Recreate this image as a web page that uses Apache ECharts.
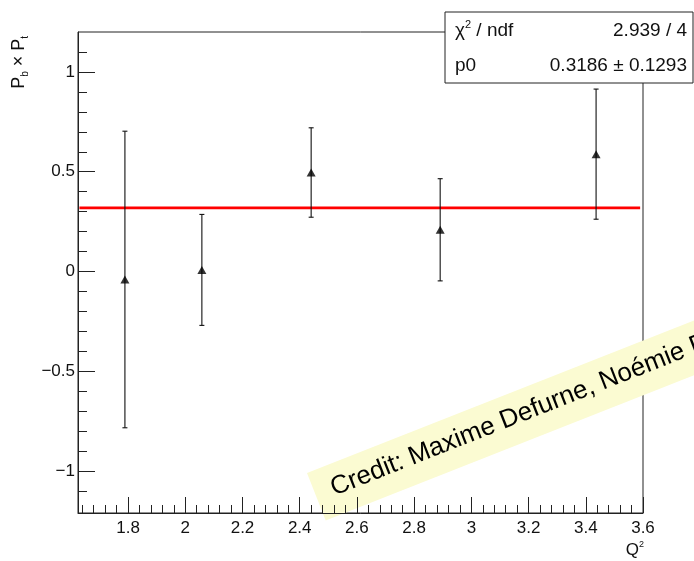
<!DOCTYPE html>
<html>
<head>
<meta charset="utf-8">
<script src="https://cdn.jsdelivr.net/npm/echarts@6/dist/echarts.min.js"></script>
<style>
  html, body { margin: 0; padding: 0; background: #fff; }
  #chart { width: 694px; height: 561px; }
</style>
</head>
<body>
<div id="chart"></div>
<script>
// Beam × target polarisation product versus Q², with constant fit
const q2 = [1.789, 2.058, 2.440, 2.891, 3.436];
const pbpt = [-0.04, 0.008, 0.496, 0.209, 0.588];
const pbptErr = [0.743, 0.278, 0.224, 0.256, 0.326];

// constant fit result
const fitP0 = 0.3186;
const fitP0Err = 0.1293;
const fitChi2 = 2.939;
const fitNdf = 4;
const fitRange = [1.63, 3.59];

// axis ranges and ticks
const xRange = [1.625, 3.6];
const yRange = [-1.21, 1.2];
const xMajorTicks = [1.8, 2.0, 2.2, 2.4, 2.6, 2.8, 3.0, 3.2, 3.4, 3.6];
const xMinorTicks = [1.64, 1.68, 1.72, 1.76, 1.84, 1.88, 1.92, 1.96, 2.04, 2.08, 2.12, 2.16,
  2.24, 2.28, 2.32, 2.36, 2.44, 2.48, 2.52, 2.56, 2.64, 2.68, 2.72, 2.76, 2.84, 2.88, 2.92, 2.96,
  3.04, 3.08, 3.12, 3.16, 3.24, 3.28, 3.32, 3.36, 3.44, 3.48, 3.52, 3.56];
const yMajorTicks = [-1, -0.5, 0, 0.5, 1];
const yMinorTicks = [-1.1, -0.9, -0.8, -0.7, -0.6, -0.4, -0.3, -0.2, -0.1,
  0.1, 0.2, 0.3, 0.4, 0.6, 0.7, 0.8, 0.9, 1.1];

const creditText = 'Credit: Maxime Defurne, Noémie Pilleux';

const FONT = '"Liberation Sans", Arial, Helvetica, sans-serif';
const fmt = v => String(+v.toFixed(3)).replace('-', '\u2212');

const points = q2.map((x, i) => [x, pbpt[i]]);
const bars = q2.map((x, i) => [x, pbpt[i] - pbptErr[i], pbpt[i] + pbptErr[i]]);

const chart = echarts.init(document.getElementById('chart'), null, { renderer: 'canvas' });

const baseX = {
  type: 'value', min: xRange[0], max: xRange[1], position: 'bottom',
  splitLine: { show: false }
};
const baseY = {
  type: 'value', min: yRange[0], max: yRange[1], position: 'left',
  splitLine: { show: false }
};

chart.setOption({
  animation: false,
  backgroundColor: '#fff',
  grid: {
    left: 78, top: 32, right: 51, bottom: 48,
    show: true, borderColor: '#222', borderWidth: 1,
    containLabel: false, outerBoundsMode: 'none'
  },
  xAxis: [
    Object.assign({}, baseX, {
      axisLine: { show: true, onZero: false, lineStyle: { color: '#222', width: 1 } },
      axisTick: { show: true, inside: true, length: 16, customValues: xMajorTicks,
        lineStyle: { color: '#222', width: 1 } },
      axisLabel: { show: true, customValues: xMajorTicks, formatter: fmt, margin: 7,
        color: '#111', fontSize: 17, fontFamily: FONT }
    }),
    Object.assign({}, baseX, {
      axisLine: { show: false, onZero: false },
      axisTick: { show: true, inside: true, length: 8, customValues: xMinorTicks,
        lineStyle: { color: '#222', width: 1 } },
      axisLabel: { show: false }
    })
  ],
  yAxis: [
    Object.assign({}, baseY, {
      axisLine: { show: true, onZero: false, lineStyle: { color: '#222', width: 1 } },
      axisTick: { show: true, inside: true, length: 17, customValues: yMajorTicks,
        lineStyle: { color: '#222', width: 1 } },
      axisLabel: { show: true, customValues: yMajorTicks, formatter: fmt, margin: 3,
        color: '#111', fontSize: 17, fontFamily: FONT }
    }),
    Object.assign({}, baseY, {
      axisLine: { show: false, onZero: false },
      axisTick: { show: true, inside: true, length: 9, customValues: yMinorTicks,
        lineStyle: { color: '#222', width: 1 } },
      axisLabel: { show: false }
    })
  ],
  series: [
    {
      name: 'fit',
      type: 'line',
      xAxisIndex: 0, yAxisIndex: 0,
      data: [[fitRange[0], fitP0], [fitRange[1], fitP0]],
      showSymbol: false, symbol: 'none',
      lineStyle: { color: '#ff0000', width: 2.6 },
      z: 2
    },
    {
      name: 'errors',
      type: 'custom',
      xAxisIndex: 0, yAxisIndex: 0,
      data: bars,
      renderItem: function (params, api) {
        const x = api.value(0);
        const lo = api.coord([x, api.value(1)]);
        const hi = api.coord([x, api.value(2)]);
        const cap = 2.5;
        const style = { stroke: '#111', lineWidth: 1.1 };
        return {
          type: 'group',
          children: [
            { type: 'line', shape: { x1: lo[0], y1: lo[1], x2: hi[0], y2: hi[1] }, style: style },
            { type: 'line', shape: { x1: lo[0] - cap, y1: lo[1], x2: lo[0] + cap, y2: lo[1] }, style: style },
            { type: 'line', shape: { x1: hi[0] - cap, y1: hi[1], x2: hi[0] + cap, y2: hi[1] }, style: style }
          ]
        };
      },
      z: 3
    },
    {
      name: 'data',
      type: 'scatter',
      xAxisIndex: 0, yAxisIndex: 0,
      data: points,
      symbol: 'triangle',
      symbolSize: [9, 8],
      itemStyle: { color: '#000' },
      z: 4
    }
  ],
  graphic: [
    // y axis title
    {
      type: 'text', x: 19, y: 36, rotation: Math.PI / 2,
      style: {
        text: '{m|P}{s|b}{m| × P}{s|t}',
        align: 'right', verticalAlign: 'middle', fill: '#111',
        rich: {
          m: { fontSize: 18, fontFamily: FONT, lineHeight: 22, fill: '#111' },
          s: { fontSize: 10, fontFamily: FONT, verticalAlign: 'bottom', fill: '#111' }
        }
      }
    },
    // x axis title
    {
      type: 'text', x: 644, y: 550,
      style: {
        text: '{m|Q}{s|2}',
        align: 'right', verticalAlign: 'middle', fill: '#111',
        rich: {
          m: { fontSize: 17, fontFamily: FONT, lineHeight: 20, fill: '#111' },
          s: { fontSize: 9, fontFamily: FONT, verticalAlign: 'top', fill: '#111' }
        }
      }
    },
    // fit statistics box
    {
      type: 'group', x: 445, y: 12, z: 100,
      children: [
        { type: 'rect', shape: { x: 0, y: 0, width: 248, height: 71 },
          style: { fill: '#fff', stroke: '#222', lineWidth: 1 } },
        { type: 'text', x: 10, y: 19,
          style: {
            text: '{m|χ}{s|2}{m| / ndf}', verticalAlign: 'middle', fill: '#111',
            rich: {
              m: { fontSize: 19, fontFamily: FONT, lineHeight: 24, fill: '#111' },
              s: { fontSize: 11, fontFamily: FONT, verticalAlign: 'top', fill: '#111' }
            }
          } },
        { type: 'text', x: 242, y: 19,
          style: { text: fitChi2.toFixed(3) + ' / ' + fitNdf, align: 'right', verticalAlign: 'middle',
            fontSize: 19, fontFamily: FONT, fill: '#111' } },
        { type: 'text', x: 10, y: 54,
          style: { text: 'p0', verticalAlign: 'middle', fontSize: 19, fontFamily: FONT, fill: '#111' } },
        { type: 'text', x: 242, y: 54,
          style: { text: fitP0.toFixed(4) + ' ± ' + fitP0Err.toFixed(4), align: 'right', verticalAlign: 'middle',
            fontSize: 19, fontFamily: FONT, fill: '#111' } }
      ]
    },
    // credit banner
    {
      type: 'group', x: 307, y: 473, rotation: 21.5 * Math.PI / 180, z: 120,
      children: [
        { type: 'rect', shape: { x: 0, y: 0, width: 620, height: 51 },
          style: { fill: '#fbfbd2' } },
        { type: 'text', x: 17, y: 24,
          style: { text: creditText, verticalAlign: 'middle', fontSize: 26, fontFamily: FONT, fill: '#000' } }
      ]
    }
  ]
});
</script>
</body>
</html>
